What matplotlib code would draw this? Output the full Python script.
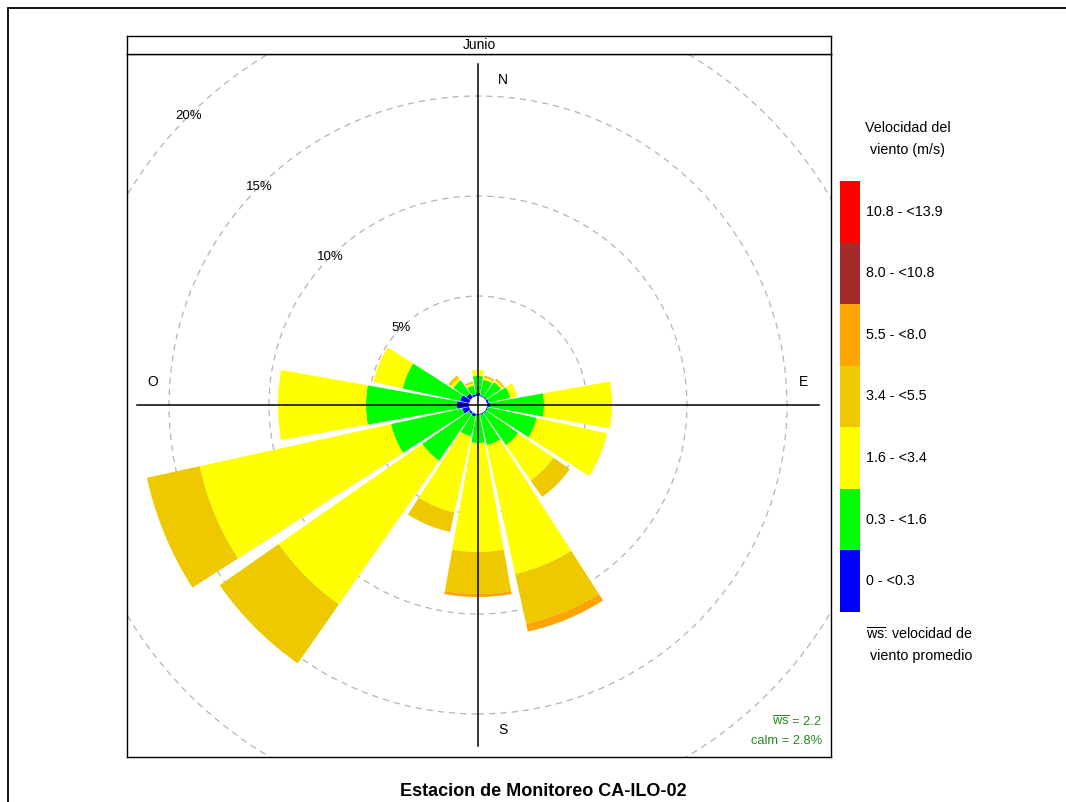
import matplotlib
matplotlib.use('Agg')
import matplotlib.pyplot as plt
from matplotlib.patches import Wedge, Circle, Rectangle
import numpy as np

plt.rcParams['font.family'] = ['Liberation Sans', 'DejaVu Sans']
plt.rcParams['mathtext.fontset'] = 'custom'
plt.rcParams['mathtext.rm'] = 'Liberation Sans'

# Wind directions (compass degrees, clockwise from N)
directions = [0, 22.5, 45, 67.5, 90, 112.5, 135, 157.5,
              180, 202.5, 225, 247.5, 270, 292.5, 315, 337.5]

# Frequency (%) of each speed bin per direction
freq_0_03 = [0.15, 0.05, 0.05, 0.10, 0.15, 0.05, 0.05, 0.05,
             0.05, 0.15, 0.10, 0.35, 0.60, 0.45, 0.25, 0.10]
freq_03_16 = [0.85, 0.80, 0.90, 1.10, 2.70, 2.50, 1.95, 1.55,
              1.40, 1.00, 2.85, 3.65, 4.55, 2.95, 0.80, 0.45]
freq_16_34 = [0.30, 0.10, 0.10, 0.35, 3.40, 3.60, 2.15, 6.60,
              5.45, 3.90, 8.75, 9.80, 4.40, 1.50, 0.15, 0.10]
freq_34_55 = [0.00, 0.05, 0.05, 0.00, 0.00, 0.00, 1.00, 2.55,
              2.10, 1.00, 3.60, 2.70, 0.00, 0.00, 0.10, 0.05]
freq_55_80 = [0.00, 0.05, 0.05, 0.00, 0.00, 0.00, 0.00, 0.40,
              0.15, 0.00, 0.00, 0.00, 0.00, 0.00, 0.05, 0.05]
freq_80_108 = [0.0] * 16
freq_108_139 = [0.0] * 16

speed_labels = ['0 - <0.3', '0.3 - <1.6', '1.6 - <3.4', '3.4 - <5.5',
                '5.5 - <8.0', '8.0 - <10.8', '10.8 - <13.9']
bin_colors = ['#0000FF', '#00FF00', '#FFFF00', '#EEC900',
              '#FFA500', '#A52A2A', '#FF0000']

ring_pcts = [5, 10, 15, 20]
compass_labels = ['N', 'E', 'S', 'O']
mean_ws = 2.2
calm_pct = 2.8
panel_title = 'Junio'
main_title = 'Estacion de Monitoreo CA-ILO-02'

W, H = 1066, 802
fig = plt.figure(figsize=(W / 100, H / 100), dpi=100)

OFF = 0.45      # calm offset (hole) in % units
HALF = 10.1     # half angular width of a wedge

# main panel
ax = fig.add_axes([127 / W, (H - 757) / H, 704 / W, 703 / H])
ax.set_xlim(-351 / 20, 353 / 20)
ax.set_ylim(-352 / 20, 351 / 20)
ax.set_xticks([])
ax.set_yticks([])
for s in ax.spines.values():
    s.set_linewidth(1.0)

# dashed rings
for p in ring_pcts:
    ax.add_patch(Circle((0, 0), OFF + p, fill=False, ec='#b4b4b4', lw=0.9,
                        ls=(0, (5, 4)), zorder=1))
    a = np.deg2rad(90 - 315)
    ax.text((OFF + p) * np.cos(a), (OFF + p) * np.sin(a), f'{p}%',
            ha='center', va='center', fontsize=9.5, zorder=5)

# stacked wedges
all_bins = [freq_0_03, freq_03_16, freq_16_34, freq_34_55,
            freq_55_80, freq_80_108, freq_108_139]
for i, d in enumerate(directions):
    cum = OFF
    for b, freqs in enumerate(all_bins):
        v = freqs[i]
        if v <= 0:
            continue
        ax.add_patch(Wedge((0, 0), cum + v, 90 - d - HALF, 90 - d + HALF,
                           width=v, fc=bin_colors[b], ec='none', zorder=2))
        cum += v

# cross hair
L = 17.05
ax.plot([-L, L], [0, 0], color='black', lw=1.1, zorder=4)
ax.plot([0, 0], [-L, L], color='black', lw=1.1, zorder=4)

# compass labels
lab_pos = [(1.25, 16.25), (16.25, 1.15), (1.25, -16.25), (-16.25, 1.15)]
for lab, (x, y) in zip(compass_labels, lab_pos):
    ax.text(x, y, lab, ha='center', va='center', fontsize=10, zorder=5)

# ws and calm annotation
ax.text(822 / 20 - 478 / 20 + 0.0, (405 - 722) / 20, r'$\overline{\mathrm{ws}}$' + f' = {mean_ws}',
        ha='right', va='center', fontsize=9.3, color='#228B22')
ax.text(822 / 20 - 478 / 20, (405 - 741) / 20, f'calm = {calm_pct}%',
        ha='right', va='center', fontsize=9.3, color='#228B22')

# strip
sax = fig.add_axes([127 / W, (H - 54) / H, 704 / W, 18 / H])
sax.set_xticks([])
sax.set_yticks([])
for s in sax.spines.values():
    s.set_linewidth(1.0)
sax.text(0.5, 0.5, panel_title, ha='center', va='center', fontsize=10,
         transform=sax.transAxes)

# legend colour key
lax = fig.add_axes([840 / W, (H - 612) / H, 20 / W, 431 / H])
for b, c in enumerate(bin_colors):
    lax.bar(0, 1, bottom=b, width=1, color=c, edgecolor='none')
lax.set_xlim(-0.5, 0.5)
lax.set_ylim(0, len(bin_colors))
lax.axis('off')
seg = 431 / len(bin_colors)
for b, lab in enumerate(speed_labels):
    yc = 612 - seg * (b + 0.5)
    fig.text(866 / W, (H - yc) / H, lab, ha='left', va='center', fontsize=10.3)

fig.text(908 / W, (H - 128) / H, 'Velocidad del', ha='center', va='center', fontsize=10.3)
fig.text(908 / W, (H - 150) / H, 'viento (m/s)', ha='center', va='center', fontsize=10.3)
fig.text(866 / W, (H - 635) / H, r'$\overline{\mathrm{ws}}$: velocidad de',
         ha='left', va='center', fontsize=10.3)
fig.text(921 / W, (H - 656) / H, 'viento promedio', ha='center', va='center', fontsize=10.3)

# main title
fig.text(543 / W, (H - 791) / H, main_title, ha='center', va='center',
         fontsize=13, fontweight='bold')

# outer frame
fig.add_artist(Rectangle((8 / W, -0.1), 1.2, (H - 8) / H + 0.1,
                         transform=fig.transFigure, fill=False, lw=1.3, ec='black'))

fig.savefig('out.png', dpi=100)
